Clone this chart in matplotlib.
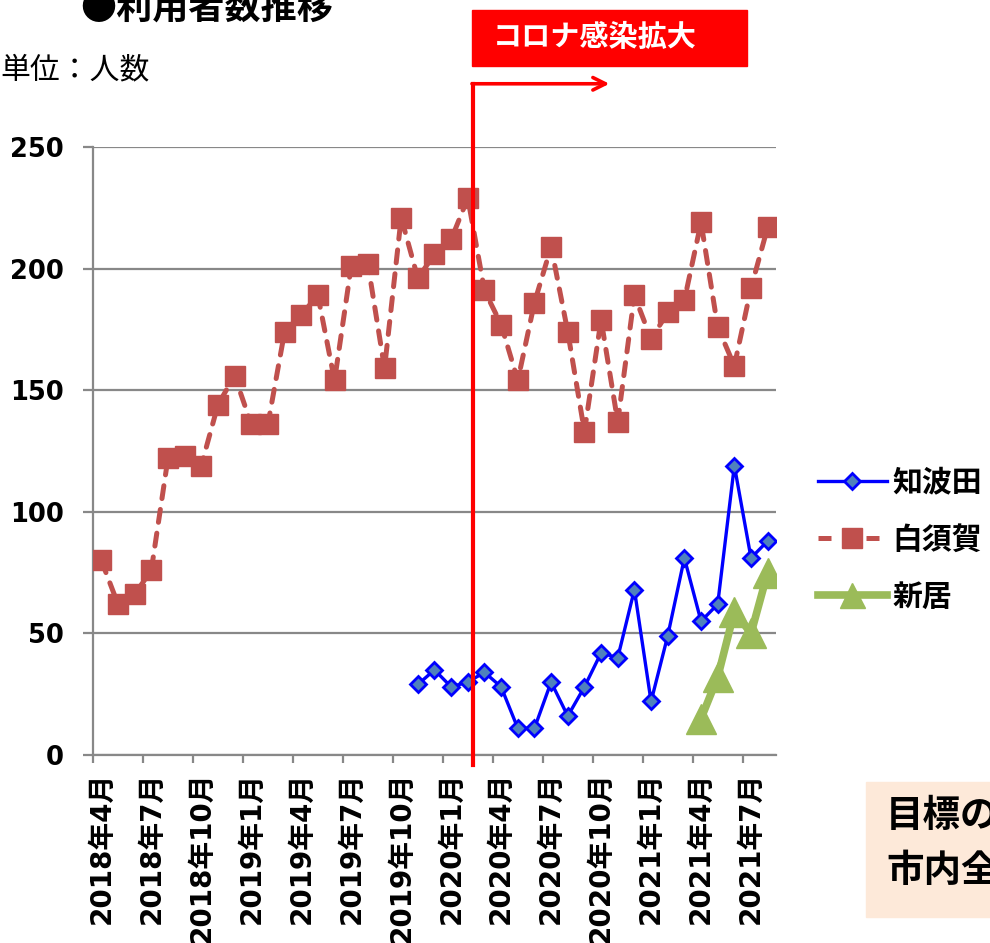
import matplotlib
matplotlib.use("Agg")
import matplotlib.pyplot as plt
from matplotlib.patches import Rectangle
from matplotlib.lines import Line2D

plt.rcParams['font.family'] = ['DejaVu Sans', 'Noto Sans CJK JP']

# monthly series, 2018-04 .. 2021-08
months = [f"{y}年{m}月" for y, m in
          [(2018, m) for m in range(4, 13)] + [(2019, m) for m in range(1, 13)] +
          [(2020, m) for m in range(1, 13)] + [(2021, m) for m in range(1, 9)]]

shirasuka = [80, 62, 66, 76, 122, 123, 119, 144, 156, 136, 136, 174, 181, 189,
             154, 201, 202, 159, 221, 196, 206, 212, 229, 191, 177, 154, 186,
             209, 174, 133, 179, 137, 189, 171, 182, 187, 219, 176, 160, 192, 217]

# 知波田 starts 2019-11
chibata_start = 19
chibata = [29, 35, 28, 30, 34, 28, 11, 11, 30, 16, 28, 42, 40, 68, 22, 49,
           81, 55, 62, 119, 81, 88]

# 新居 starts 2021-04
arai_start = 36
arai = [15, 32, 59, 50, 75]

yticks = [0, 50, 100, 150, 200, 250]
covid_x = 22.3   # between 2020年2月 and 2020年3月
covid_label = "コロナ感染拡大"

fig = plt.figure(figsize=(9.9, 9.43), dpi=100)
ax = fig.add_axes([93 / 990, 1 - 755 / 943, 683 / 990, 608 / 943])

x_all = list(range(len(months)))
ax.plot(x_all, shirasuka, color='#C0504D', lw=3.6, linestyle=(0, (2.6, 2.2)),
        dash_capstyle='round', marker='s', ms=14, mfc='#C0504D', mec='#C0504D',
        label='白須賀', zorder=3)
x_ch = list(range(chibata_start, chibata_start + len(chibata)))
ax.plot(x_ch, chibata, color='#0000FF', lw=2.4, marker='D', ms=8,
        mfc='#4F81BD', mec='#0000FF', mew=2, label='知波田', zorder=4)
x_ar = list(range(arai_start, arai_start + len(arai)))
ax.plot(x_ar, arai, color='#9BBB59', lw=5.5, marker='^', ms=21,
        mfc='#9BBB59', mec='#9BBB59', label='新居', zorder=5)

ax.set_xlim(-0.5, len(months) - 0.5)
ax.set_ylim(0, 250)
ax.set_yticks(yticks)
ax.yaxis.grid(True, color='#888888', lw=1.6)
ax.set_axisbelow(True)
for s in ('top', 'right'):
    ax.spines[s].set_visible(False)
for s in ('left', 'bottom'):
    ax.spines[s].set_color('#888888')
    ax.spines[s].set_linewidth(1.6)
ax.tick_params(axis='y', length=7, width=1.6, color='#888888', pad=14,
               labelsize=18.5)
for lab in ax.get_yticklabels():
    lab.set_fontweight('bold')

# labels every 3 months at category centers, ticks on category boundaries
label_pos = x_all[::3]
ax.set_xticks(label_pos)
ax.set_xticklabels([months[i] for i in label_pos], rotation=90,
                   fontsize=20, fontweight='bold', va='top', ha='center')
ax.tick_params(axis='x', which='major', length=0, pad=12)
ax.set_xticks([p - 0.5 for p in label_pos], minor=True)
ax.tick_params(axis='x', which='minor', length=6, width=1.6, color='#888888')

# start of the covid spread
ax.plot([covid_x, covid_x], [-4, 276], color='#FF0000', lw=3, clip_on=False,
        zorder=6)
ax.annotate('', xy=(covid_x + 8.2, 276), xytext=(covid_x - 0.05, 276),
            arrowprops=dict(arrowstyle='->,head_length=0.9,head_width=0.45',
                            color='#FF0000', lw=2.6, shrinkA=0, shrinkB=0),
            annotation_clip=False)
fig.add_artist(Rectangle((472 / 990, 1 - 66 / 943), 275 / 990, 56 / 943,
                         transform=fig.transFigure, color='#FF0000'))
fig.text(493 / 990, 1 - 38 / 943, covid_label, color='white', fontsize=21,
         fontweight='bold', va='center', ha='left')

fig.text(80 / 990, 1 - 20 / 943, '●利用者数推移', fontsize=26,
         fontweight='bold', va='baseline', ha='left',
         family=['Noto Sans CJK JP'])
fig.text(0 / 990, 1 - 70 / 943, '単位：人数', fontsize=21.5, va='center',
         ha='left', family=['Noto Sans CJK JP'])

handles = [Line2D([], [], color='#0000FF', lw=2.4, marker='D', ms=8,
                  mfc='#4F81BD', mec='#0000FF', mew=2),
           Line2D([], [], color='#C0504D', lw=3.6, linestyle=(0, (2.6, 2.2)),
                  marker='s', ms=14, mfc='#C0504D', mec='#C0504D'),
           Line2D([], [], color='#9BBB59', lw=5.5, marker='^', ms=18,
                  mfc='#9BBB59', mec='#9BBB59')]
leg = fig.legend(handles, ['知波田', '白須賀', '新居'], loc='center left',
                 bbox_to_anchor=(791 / 990, 1 - 540 / 943), frameon=False,
                 handlelength=2.3, handletextpad=0.2, labelspacing=0.95,
                 prop=dict(size=21.5, weight='bold'))

# target note box at lower right
fig.add_artist(Rectangle((866 / 990, 1 - 917 / 943), 200 / 990, 135 / 943,
                         transform=fig.transFigure, color='#FDE9D9'))
fig.text(886 / 990, 1 - 817 / 943, '目標の', fontsize=27, fontweight='bold',
         va='center', ha='left')
fig.text(886 / 990, 1 - 872 / 943, '市内全', fontsize=27, fontweight='bold',
         va='center', ha='left')

fig.savefig('out.png', dpi=100)
